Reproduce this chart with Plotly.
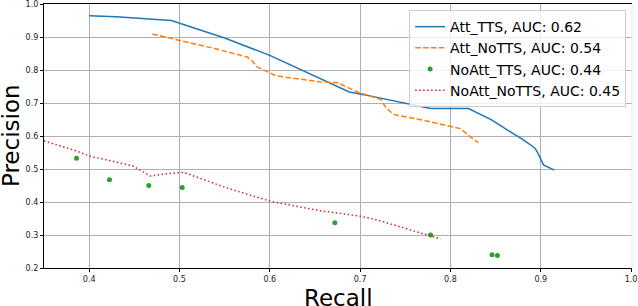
import plotly.graph_objects as go

# ---- data ----
att_tts_recall = [0.40, 0.43, 0.491, 0.55, 0.60, 0.655, 0.688, 0.704, 0.74, 0.778, 0.820, 0.845, 0.865, 0.868, 0.880, 0.893, 0.896, 0.903, 0.915]
att_tts_precision = [0.965, 0.962, 0.951, 0.898, 0.845, 0.776, 0.734, 0.726, 0.705, 0.684, 0.684, 0.650, 0.615, 0.610, 0.590, 0.565, 0.553, 0.513, 0.497]

att_notts_recall = [0.47, 0.50, 0.54, 0.575, 0.58, 0.586, 0.607, 0.655, 0.675, 0.697, 0.723, 0.728, 0.737, 0.77, 0.811, 0.822, 0.831]
att_notts_precision = [0.91, 0.891, 0.865, 0.84, 0.83, 0.81, 0.783, 0.765, 0.762, 0.734, 0.711, 0.689, 0.666, 0.648, 0.623, 0.598, 0.58]

noatt_tts_recall = [0.386, 0.4225, 0.466, 0.503, 0.672, 0.778, 0.846, 0.852]
noatt_tts_precision = [0.533, 0.468, 0.45, 0.444, 0.337, 0.30, 0.24, 0.238]

noatt_notts_recall = [0.35, 0.385, 0.40, 0.448, 0.468, 0.489, 0.505, 0.55, 0.60, 0.655, 0.671, 0.699, 0.72, 0.778, 0.789]
noatt_notts_precision = [0.586, 0.556, 0.54, 0.51, 0.479, 0.487, 0.49, 0.445, 0.403, 0.374, 0.368, 0.358, 0.345, 0.297, 0.288]

series_names = ["Att_TTS, AUC: 0.62", "Att_NoTTS, AUC: 0.54", "NoAtt_TTS, AUC: 0.44", "NoAtt_NoTTS, AUC: 0.45"]
x_ticks = [0.4, 0.5, 0.6, 0.7, 0.8, 0.9, 1.0]
y_ticks = [0.2, 0.3, 0.4, 0.5, 0.6, 0.7, 0.8, 0.9, 1.0]

FONT = "DejaVu Sans"

fig = go.Figure()
fig.add_trace(go.Scatter(x=att_tts_recall, y=att_tts_precision, mode="lines", name=series_names[0],
                         line=dict(color="#1f77b4", width=1.5)))
fig.add_trace(go.Scatter(x=att_notts_recall, y=att_notts_precision, mode="lines", name=series_names[1],
                         line=dict(color="#ff7f0e", width=1.5, dash="5.5px,2.4px")))
fig.add_trace(go.Scatter(x=noatt_tts_recall, y=noatt_tts_precision, mode="markers", name=series_names[2],
                         marker=dict(color="#2ca02c", size=5)))
fig.add_trace(go.Scatter(x=noatt_notts_recall, y=noatt_notts_precision, mode="lines", name=series_names[3],
                         line=dict(color="#d62728", width=1.5, dash="1.5px,2.5px")))

fig.update_layout(
    template="none",
    width=638, height=306,
    margin=dict(l=44, r=6, t=4, b=38, autoexpand=False),
    paper_bgcolor="white", plot_bgcolor="white",
    font=dict(family=FONT, color="black"),
    showlegend=True,
    legend=dict(x=0.99, y=0.977, xanchor="right", yanchor="top",
                bgcolor="rgba(255,255,255,0.8)", bordercolor="#cccccc", borderwidth=1,
                font=dict(family=FONT, size=14, color="black"),
                itemwidth=30, tracegroupgap=0),
    annotations=[
        dict(text="Recall", xref="paper", yref="paper", x=0.5, y=-0.058, xanchor="center", yanchor="top",
             showarrow=False, font=dict(family=FONT, size=23, color="black")),
        dict(text="Precision", xref="paper", yref="paper", x=-0.056, y=0.5, xanchor="center", yanchor="middle",
             textangle=-90, showarrow=False, font=dict(family=FONT, size=23, color="black")),
    ],
    shapes=[dict(type="line", xref="paper", yref="paper", x0=1, x1=1, y0=0, y1=1,
                 line=dict(color="#e6e6e6", width=1))],
)

fig.update_xaxes(range=[0.35, 1.001], tickvals=x_ticks, ticktext=[f"{v:.1f}" for v in x_ticks],
                 automargin=False, ticklabeloverflow="allow",
                 showgrid=True, gridcolor="#b0b0b0", gridwidth=1, zeroline=False,
                 showline=True, linecolor="black", linewidth=1.2, mirror=True,
                 ticks="outside", ticklen=3, tickcolor="black",
                 tickfont=dict(family=FONT, size=8, color="#222"))
fig.update_yaxes(range=[0.2, 1.001], tickvals=y_ticks, ticktext=[f"{v:.1f}" for v in y_ticks],
                 automargin=False, ticklabeloverflow="allow",
                 showgrid=True, gridcolor="#b0b0b0", gridwidth=1, zeroline=False,
                 showline=True, linecolor="black", linewidth=1.2,
                 ticks="outside", ticklen=3, tickcolor="black",
                 tickfont=dict(family=FONT, size=8, color="#222"))

fig.write_html("out.html", config={"displayModeBar": False},
               post_script="document.body.style.margin='0px';")
